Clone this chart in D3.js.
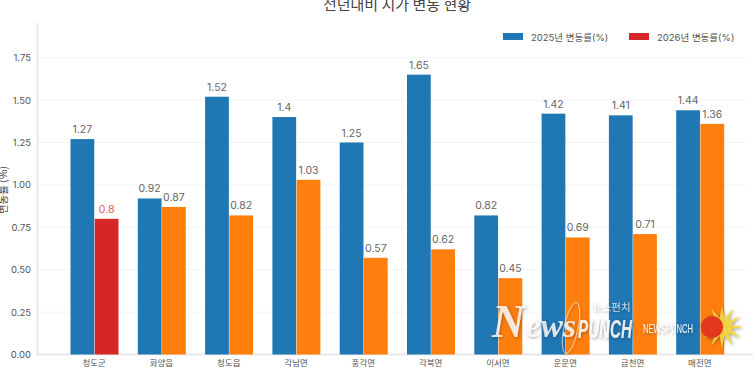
<!DOCTYPE html>
<html>
<head>
<meta charset="utf-8">
<script src="https://cdn.jsdelivr.net/npm/d3@7"></script>
<style>
  html, body { margin: 0; padding: 0; background: #fff; overflow: hidden; }
  svg { display: block; font-family: Inter, "Noto Sans CJK KR", sans-serif; }
</style>
</head>
<body>
<div id="chart"></div>
<script>
var regions = ["청도군", "화양읍", "청도읍", "각남면", "풍각면", "각북면", "이서면", "운문면", "금천면", "매전면"];
var values2025 = [1.27, 0.92, 1.52, 1.4, 1.25, 1.65, 0.82, 1.42, 1.41, 1.44];
var values2026 = [0.8, 0.87, 0.82, 1.03, 0.57, 0.62, 0.45, 0.69, 0.71, 1.36];
var seriesNames = ["2025년 변동률(%)", "2026년 변동률(%)"];
var yTicks = [0, 0.25, 0.5, 0.75, 1, 1.25, 1.5, 1.75];

var svgWidth = 753;
var svgHeight = 370;
var axisX = 37.5;
var baseY = 354.5;
var topY = 23;

var svg = d3.select("#chart")
  .append("svg")
  .attr("width", svgWidth)
  .attr("height", svgHeight);

// Soft shadow for the watermark
var shadow = svg.append("defs").append("filter")
  .attr("id", "markShadow")
  .attr("x", "-20%").attr("y", "-40%")
  .attr("width", "140%").attr("height", "180%");
shadow.append("feDropShadow")
  .attr("dx", 1).attr("dy", 1)
  .attr("stdDeviation", 1.6)
  .attr("flood-color", "#333")
  .attr("flood-opacity", 0.55);

// Scales
var xScale = d3.scaleBand()
  .domain(regions)
  .range([60.5, 733.5]);

var barScale = d3.scaleBand()
  .domain([0, 1])
  .range([10, 58])
  .paddingInner(0.02);

var yScale = d3.scaleLinear()
  .domain([0, 1.75])
  .range([baseY, 57.7]);

// Grid
svg.append("g")
  .selectAll("line")
  .data(yTicks.slice(1))
  .enter()
  .append("line")
  .attr("x1", axisX)
  .attr("x2", 745)
  .attr("y1", d => yScale(d))
  .attr("y2", d => yScale(d))
  .attr("stroke", "#f3f3f3")
  .attr("stroke-width", 1);

// Axes
var leftAxis = d3.axisLeft(yScale)
  .tickValues(yTicks)
  .tickFormat(d3.format(".2f"))
  .tickSize(0)
  .tickPadding(6.5);

var leftG = svg.append("g")
  .attr("transform", `translate(${axisX}, 0)`)
  .call(leftAxis);
leftG.select(".domain").remove();
leftG.selectAll("text")
  .attr("font-size", "9.5")
  .attr("font-family", "Inter, sans-serif")
  .attr("fill", "#555");

var bottomAxis = d3.axisBottom(xScale)
  .tickSize(0)
  .tickPadding(5);

var bottomG = svg.append("g")
  .attr("transform", `translate(0, ${baseY})`)
  .call(bottomAxis);
bottomG.select(".domain").remove();
bottomG.selectAll("text")
  .attr("font-size", "8.5")
  .attr("font-family", "'Noto Sans CJK KR', sans-serif")
  .attr("fill", "#555");

svg.append("line")
  .attr("x1", axisX).attr("x2", axisX)
  .attr("y1", topY).attr("y2", baseY)
  .attr("stroke", "#e4e4e4").attr("stroke-width", 1.5);
svg.append("line")
  .attr("x1", axisX).attr("x2", 753)
  .attr("y1", baseY).attr("y2", baseY)
  .attr("stroke", "#e4e4e4").attr("stroke-width", 1.5);

// Bars
var groups = svg.selectAll(".region")
  .data(regions)
  .enter()
  .append("g")
  .attr("class", "region")
  .attr("transform", d => `translate(${xScale(d)}, 0)`);

groups.append("rect")
  .attr("x", barScale(0))
  .attr("width", barScale.bandwidth())
  .attr("y", (d, i) => yScale(values2025[i]))
  .attr("height", (d, i) => baseY - yScale(values2025[i]))
  .attr("fill", "#1f77b4");

groups.append("rect")
  .attr("x", barScale(1))
  .attr("width", barScale.bandwidth())
  .attr("y", (d, i) => yScale(values2026[i]))
  .attr("height", (d, i) => baseY - yScale(values2026[i]))
  .attr("fill", (d, i) => i === 0 ? "#d62728" : "#ff7f0e");

// Value labels
groups.append("text")
  .attr("x", barScale(0) + barScale.bandwidth() / 2)
  .attr("y", (d, i) => yScale(values2025[i]) - 6)
  .attr("text-anchor", "middle")
  .attr("font-size", "10.5")
  .attr("fill", "#666")
  .text((d, i) => values2025[i]);

groups.append("text")
  .attr("x", barScale(1) + barScale.bandwidth() / 2)
  .attr("y", (d, i) => yScale(values2026[i]) - 6)
  .attr("text-anchor", "middle")
  .attr("font-size", "10.5")
  .attr("fill", (d, i) => i === 0 ? "#e0605f" : "#666")
  .text((d, i) => values2026[i]);

// Title, cut off by the top edge like the source
svg.append("text")
  .attr("x", 397)
  .attr("y", 10)
  .attr("text-anchor", "middle")
  .attr("font-size", "15")
  .attr("fill", "#444")
  .attr("font-family", "'Noto Sans CJK KR', sans-serif")
  .text("전년대비 지가 변동 현황");

// Y axis title
svg.append("text")
  .attr("transform", "translate(7, 190) rotate(-90)")
  .attr("text-anchor", "middle")
  .attr("font-size", "10.5")
  .attr("fill", "#444")
  .attr("font-family", "'Noto Sans CJK KR', sans-serif")
  .text("변동률 (%)");

// Legend
var legendX = [503, 629];
var legendColors = ["#1f77b4", "#d62728"];
var legend = svg.selectAll(".legend")
  .data(seriesNames)
  .enter()
  .append("g")
  .attr("class", "legend")
  .attr("transform", (d, i) => `translate(${legendX[i]}, 33)`);
legend.append("rect")
  .attr("width", 20)
  .attr("height", 7)
  .attr("fill", (d, i) => legendColors[i]);
legend.append("text")
  .attr("x", 28)
  .attr("y", 7.5)
  .attr("font-size", "9.5")
  .attr("fill", "#555")
  .text(d => d);

// Watermark
var mark = svg.append("g").attr("filter", "url(#markShadow)");
mark.append("ellipse")
  .attr("transform", "translate(571, 328) rotate(12)")
  .attr("rx", 7).attr("ry", 26)
  .attr("fill", "none")
  .attr("stroke", "#fff").attr("stroke-opacity", 0.7).attr("stroke-width", 0.8);
mark.append("text")
  .attr("x", 492).attr("y", 337)
  .attr("font-family", "'Liberation Serif', serif")
  .attr("font-style", "italic").attr("font-weight", "bold")
  .attr("font-size", "46").attr("fill", "#fff").attr("fill-opacity", 0.8)
  .attr("textLength", 33).attr("lengthAdjust", "spacingAndGlyphs")
  .text("N");
mark.append("text")
  .attr("x", 526).attr("y", 337)
  .attr("font-family", "'Liberation Serif', serif")
  .attr("font-style", "italic").attr("font-weight", "bold")
  .attr("font-size", "34").attr("fill", "#fff").attr("fill-opacity", 0.8)
  .attr("textLength", 50).attr("lengthAdjust", "spacingAndGlyphs")
  .text("ews");
mark.append("text")
  .attr("x", 578).attr("y", 338)
  .attr("font-family", "'Liberation Sans', sans-serif")
  .attr("font-style", "italic").attr("font-weight", "bold")
  .attr("font-size", "25").attr("fill", "#fff").attr("fill-opacity", 0.85)
  .attr("textLength", 54).attr("lengthAdjust", "spacingAndGlyphs")
  .text("PUNCH");
mark.append("text")
  .attr("x", 592).attr("y", 311)
  .attr("font-family", "'Noto Sans CJK KR', sans-serif")
  .attr("font-size", "10.5").attr("fill", "#fff").attr("fill-opacity", 0.7)
  .text("뉴스펀치");
mark.append("text")
  .attr("x", 643).attr("y", 333)
  .attr("font-family", "'Liberation Sans', sans-serif")
  .attr("font-size", "12").attr("fill", "#fff").attr("fill-opacity", 0.9)
  .attr("textLength", 50).attr("lengthAdjust", "spacingAndGlyphs")
  .text("NEWSPUNCH");

var sun = d3.range(24).map(function(i) {
  var r = i % 2 === 0 ? 21 : 9;
  var a = i * Math.PI / 12;
  return [r * Math.cos(a), r * Math.sin(a)];
});
var logo = svg.append("g")
  .attr("transform", "translate(722, 327)")
  .attr("filter", "url(#markShadow)");
logo.append("polygon")
  .attr("points", sun.map(p => p.join(",")).join(" "))
  .attr("fill", "#f5d63d")
  .attr("fill-opacity", 0.9);
logo.append("circle")
  .attr("cx", -10).attr("cy", 0).attr("r", 11)
  .attr("fill", "#e2391c");
</script>
</body>
</html>
